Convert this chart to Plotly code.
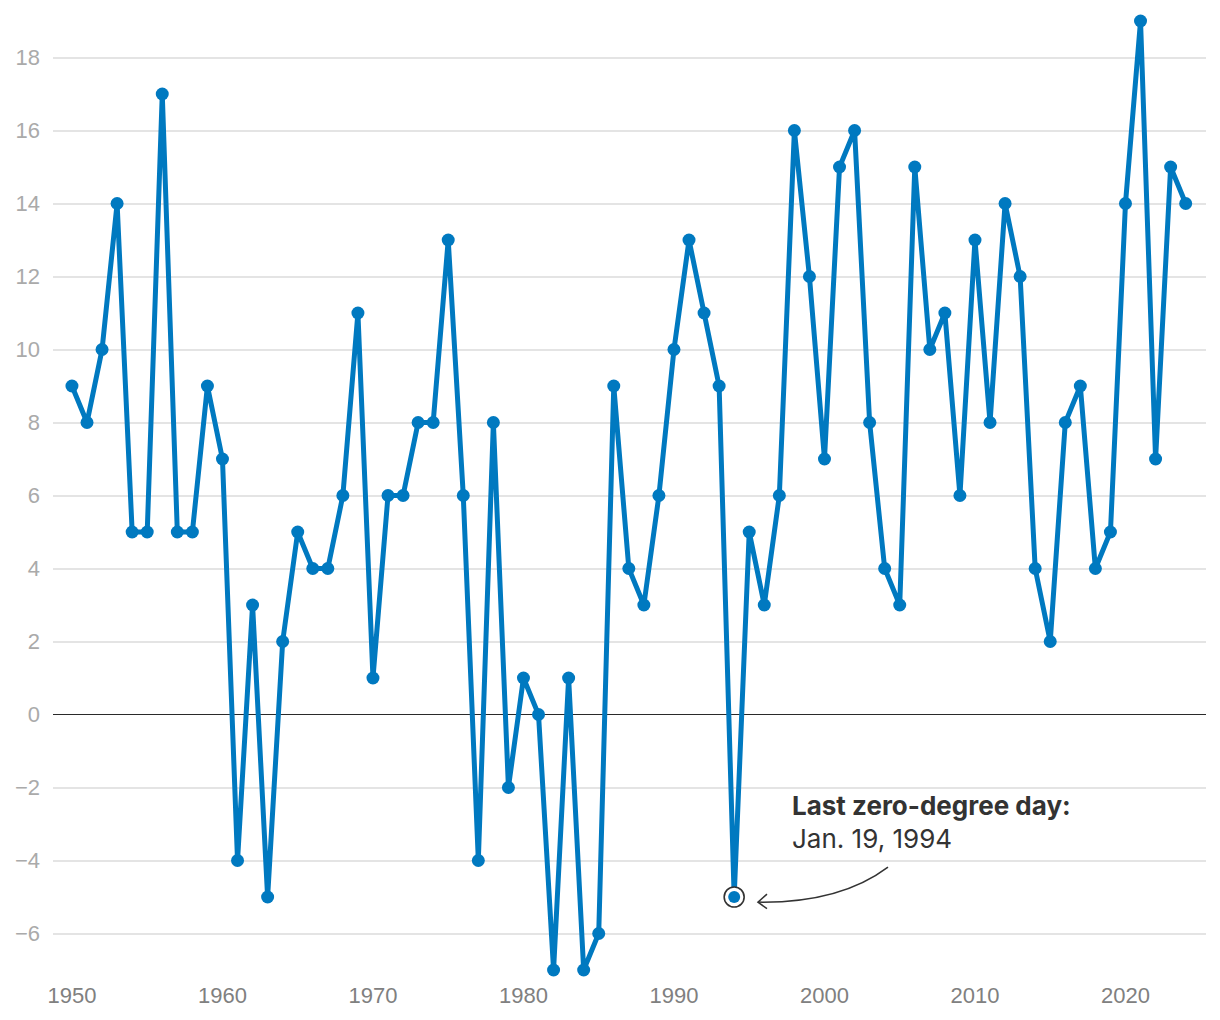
import plotly.graph_objects as go

years = list(range(1950, 2025))
values = [9, 8, 10, 14, 5, 5, 17, 5, 5, 9,
          7, -4, 3, -5, 2, 5, 4, 4, 6, 11,
          1, 6, 6, 8, 8, 13, 6, -4, 8, -2,
          1, 0, -7, 1, -7, -6, 9, 4, 3, 6,
          10, 13, 11, 9, -5, 5, 3, 6, 16, 12,
          7, 15, 16, 8, 4, 3, 15, 10, 11, 6,
          13, 8, 14, 12, 4, 2, 8, 9, 4, 5,
          14, 19, 7, 15, 14]
y_ticks = [-6, -4, -2, 0, 2, 4, 6, 8, 10, 12, 14, 16, 18]
x_ticks = [1950, 1960, 1970, 1980, 1990, 2000, 2010, 2020]
highlight_year = 1994
highlight_value = -5
note_title = "Last zero-degree day:"
note_date = "Jan. 19, 1994"

BLUE = "#0079c0"
DARK = "#333333"
TICK_FONT = "Liberation Sans"

fig = go.Figure()
fig.add_trace(go.Scatter(
    x=years, y=values, mode="lines+markers",
    line=dict(color=BLUE, width=5),
    marker=dict(color=BLUE, size=13),
    cliponaxis=False, hoverinfo="x+y", showlegend=False))
fig.add_trace(go.Scatter(
    x=[highlight_year], y=[highlight_value], mode="markers",
    marker=dict(color="white", size=20, line=dict(color=DARK, width=1.6)),
    cliponaxis=False, showlegend=False, hoverinfo="skip"))
fig.add_trace(go.Scatter(
    x=[highlight_year], y=[highlight_value], mode="markers",
    marker=dict(color=BLUE, size=12),
    cliponaxis=False, showlegend=False, hoverinfo="skip"))

hx, hy = highlight_year, highlight_value
# curved arrow (data coordinates relative to highlighted point)
sx, sy = hx + 10.22, hy + 0.82
cx, cy = hx + 7.03, hy - 0.17
ex, ey = hx + 1.58, hy - 0.14
fig.add_shape(type="path",
              path=f"M {sx},{sy} Q {cx},{cy} {ex},{ey}",
              line=dict(color=DARK, width=1.5), xref="x", yref="y")
fig.add_shape(type="path",
              path=f"M {hx+2.18},{hy+0.08} L {ex},{ey} L {hx+2.18},{hy-0.32}",
              line=dict(color=DARK, width=1.5), xref="x", yref="y")

fig.add_annotation(x=hx + 3.71, y=hy + 2.52, xref="x", yref="y",
                   text=f"<b>{note_title}</b>", showarrow=False,
                   xanchor="left", yanchor="middle",
                   font=dict(family="Inter", size=26, color=DARK))
fig.add_annotation(x=hx + 3.71, y=hy + 1.61, xref="x", yref="y",
                   text=note_date, showarrow=False,
                   xanchor="left", yanchor="middle",
                   font=dict(family="Inter", size=26, color=DARK))

fig.update_layout(
    width=1220, height=1020,
    margin=dict(l=45, r=22, t=13, b=58),
    paper_bgcolor="white", plot_bgcolor="white",
    font=dict(family=TICK_FONT),
    showlegend=False,
    xaxis=dict(range=[1948.74, 2025.35], tickvals=x_ticks,
               showgrid=False, zeroline=False, showline=False,
               ticks="", ticklabelstandoff=10, automargin=False,
               tickfont=dict(family=TICK_FONT, size=22, color="#808080")),
    yaxis=dict(range=[-7, 19], tickvals=y_ticks,
               showgrid=True, gridcolor="#e4e4e4", gridwidth=1.5,
               zeroline=True, zerolinecolor="#2a2a2a", zerolinewidth=1.4,
               showline=False, ticks="", ticklabelstandoff=12, automargin=False,
               tickfont=dict(family=TICK_FONT, size=22, color="#aaaaaa")),
)

fig.write_html("out.html")
